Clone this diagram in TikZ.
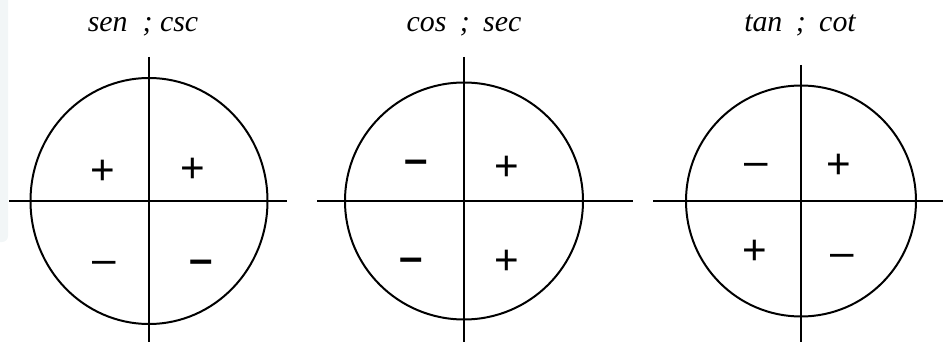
\documentclass[tikz,border=0pt]{standalone}
\usepackage{fontspec}
\setmainfont{Liberation Serif}
\newfontfamily\signfont{Liberation Sans}
\usepackage{tikz}
\definecolor{panelgray}{RGB}{242,246,247}

\begin{document}
\begin{tikzpicture}[x=0.03cm,y=-0.03cm,
  axis/.style={line width=1.8pt},
  ring/.style={line width=1.7pt},
  sign/.style={inner sep=0pt,font=\signfont\fontsize{36}{36}\selectfont},
  dashsign/.style={sign,text height=19.8pt,text depth=0pt},
  title/.style={anchor=base,inner sep=0pt,font=\itshape\fontsize{25.5}{28}\selectfont}]
\useasboundingbox (0,0) rectangle (949,342);
\fill[panelgray] (0,0) -- (8,0) [rounded corners=5pt] -- (8,242) [sharp corners] -- (0,242) -- cycle;
% sen ; csc
\coordinate (o1) at (149,201);
\coordinate (n1) at (149,57);
\coordinate (s1) at (149,342);
\coordinate (w1) at (9,201);
\coordinate (e1) at (287,201);
\draw[ring] (o1) ellipse [x radius=118.5,y radius=123];
\draw[axis] (n1) -- (s1);
\draw[axis] (w1) -- (e1);
\node[title] (t1) at (143,32) {sen\hspace{0.5em}; csc};
\node[sign] (q1a) at (103,172) {+};
\node[sign] (q1b) at (193,170) {+};
\node[dashsign] (q1c) at (104,262) {–};
\node[dashsign] (q1d) at (201,262) {\textbf{–}};
% cos ; sec
\coordinate (o2) at (464,201);
\coordinate (n2) at (464,57);
\coordinate (s2) at (464,342);
\coordinate (w2) at (317,201);
\coordinate (e2) at (633,201);
\draw[ring] (o2) ellipse [x radius=119,y radius=118.5];
\draw[axis] (n2) -- (s2);
\draw[axis] (w2) -- (e2);
\node[title] (t2) at (464,32) {cos\hspace{0.45em};\hspace{0.45em}sec};
\node[dashsign] (q2a) at (416,162) {\textbf{–}};
\node[sign] (q2b) at (507,168) {+};
\node[dashsign] (q2c) at (411,260) {\textbf{–}};
\node[sign] (q2d) at (507,262) {+};
% tan ; cot
\coordinate (o3) at (801,201);
\coordinate (n3) at (801,65);
\coordinate (s3) at (801,342);
\coordinate (w3) at (653,201);
\coordinate (e3) at (943,201);
\draw[ring] (o3) ellipse [x radius=115,y radius=115.5];
\draw[axis] (n3) -- (s3);
\draw[axis] (w3) -- (e3);
\node[title] (t3) at (800,32) {tan\hspace{0.45em};\hspace{0.45em}cot};
\node[dashsign] (q3a) at (756,164) {–};
\node[sign] (q3b) at (839,166) {+};
\node[sign] (q3c) at (755,252) {+};
\node[dashsign] (q3d) at (842,255) {–};
\end{tikzpicture}
\end{document}
